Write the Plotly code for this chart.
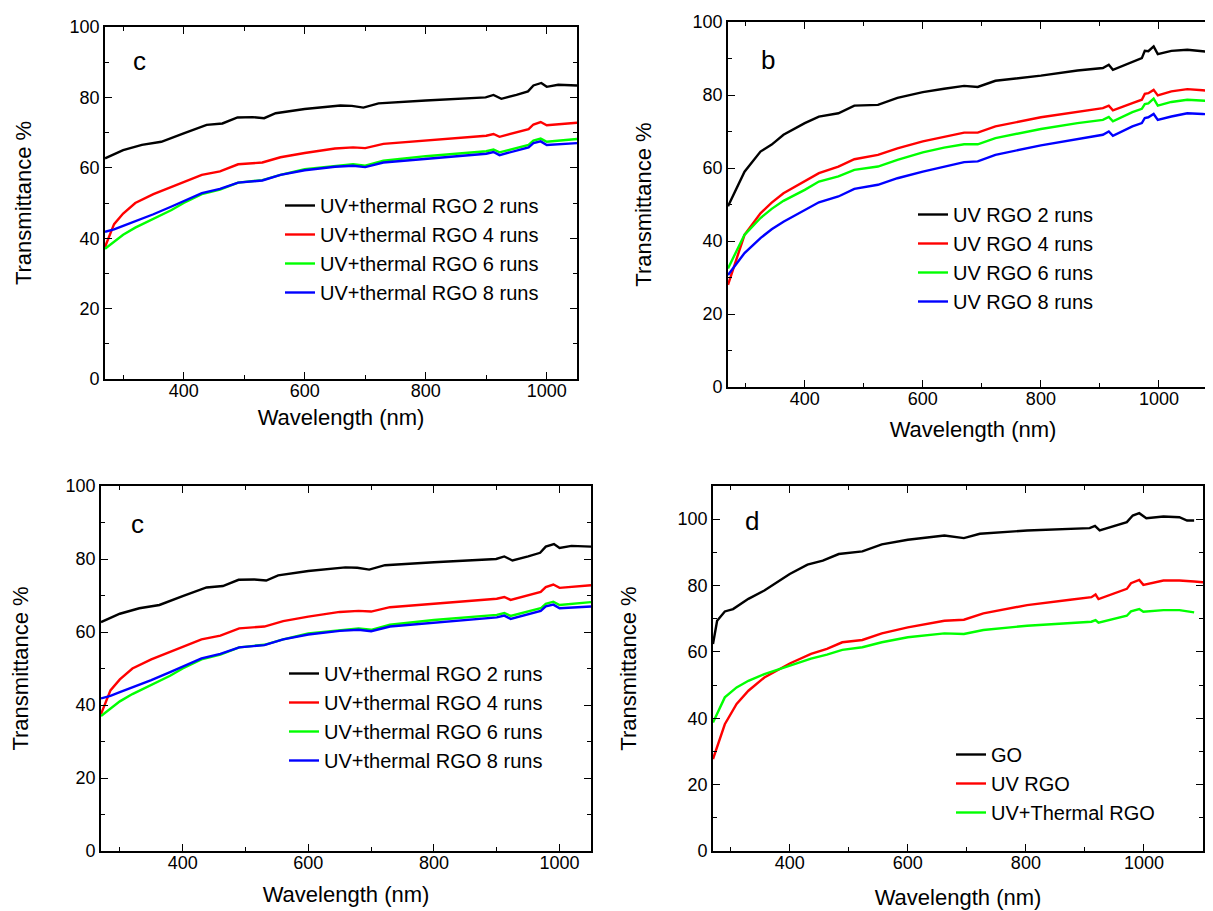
import plotly.graph_objects as go

W, H = 1213, 911
FONT = "Arial, Liberation Sans, sans-serif"

# ---------------- data: panel c (UV+thermal RGO) ----------------
wl_c_black = [270, 300, 331, 363, 400, 438, 464, 489, 514, 533, 552, 600, 659, 678, 697, 722, 800, 899, 912, 925, 950, 969, 978, 991, 1000, 1019, 1050]
t_c_2runs = [62.7, 65.0, 66.5, 67.4, 69.8, 72.2, 72.6, 74.3, 74.4, 74.1, 75.5, 76.7, 77.7, 77.6, 77.1, 78.3, 79.1, 80.0, 80.7, 79.6, 80.7, 81.7, 83.4, 84.1, 83.0, 83.6, 83.4]

wl_c = [270, 285, 300, 320, 350, 380, 400, 430, 460, 490, 530, 560, 600, 650, 680, 700, 730, 800, 850, 900, 912, 922, 970, 978, 990, 1000, 1050]
t_c_4runs = [37.5, 44.0, 47.0, 50.0, 52.5, 54.5, 56.0, 58.0, 59.0, 61.0, 61.5, 63.0, 64.2, 65.5, 65.8, 65.6, 66.8, 67.8, 68.4, 69.1, 69.6, 68.8, 71.0, 72.3, 73.0, 72.1, 72.8]
t_c_6runs = [37.0, 39.0, 41.0, 43.0, 45.5, 48.0, 50.0, 52.5, 53.8, 55.8, 56.5, 58.0, 59.6, 60.6, 61.0, 60.6, 62.0, 63.3, 64.0, 64.7, 65.2, 64.4, 66.5, 67.7, 68.3, 67.4, 68.2]
t_c_8runs = [41.8, 42.5, 43.5, 44.8, 46.8, 49.0, 50.5, 52.8, 54.0, 55.8, 56.4, 58.0, 59.3, 60.3, 60.6, 60.2, 61.5, 62.6, 63.3, 64.0, 64.5, 63.6, 65.8, 67.0, 67.5, 66.5, 67.0]

# ---------------- data: panel b (UV RGO) ----------------
wl_b = [270, 298, 325, 344, 364, 400, 424, 457, 484, 524, 557, 600, 636, 670, 693, 723, 800, 862, 905, 915, 922, 955, 971, 976, 982, 991, 998, 1021, 1048, 1074, 1100]
t_b_2runs = [49.5, 59.0, 64.5, 66.4, 69.1, 72.3, 74.1, 75.0, 77.1, 77.3, 79.2, 80.8, 81.7, 82.5, 82.2, 83.9, 85.3, 86.7, 87.4, 88.3, 86.9, 89.2, 90.1, 92.1, 92.0, 93.3, 91.2, 92.1, 92.4, 92.0, 91.5]
t_b_4runs = [28.0, 41.7, 47.6, 50.5, 53.1, 56.3, 58.6, 60.4, 62.4, 63.6, 65.4, 67.3, 68.6, 69.7, 69.7, 71.4, 73.9, 75.5, 76.4, 77.1, 75.8, 77.8, 78.7, 80.3, 80.5, 81.4, 79.9, 81.0, 81.6, 81.3, 81.0]
t_b_6runs = [32.5, 41.7, 46.3, 48.8, 51.0, 54.0, 56.3, 57.7, 59.5, 60.4, 62.2, 64.3, 65.6, 66.5, 66.5, 68.2, 70.7, 72.3, 73.2, 74.0, 72.8, 75.3, 76.2, 77.5, 77.7, 79.0, 77.1, 78.1, 78.7, 78.5, 78.2]
t_b_8runs = [30.7, 36.7, 40.8, 43.2, 45.3, 48.5, 50.6, 52.2, 54.3, 55.4, 57.2, 59.0, 60.4, 61.6, 61.8, 63.6, 66.2, 67.9, 69.1, 70.0, 68.8, 71.4, 72.3, 73.7, 73.9, 74.8, 73.2, 74.1, 75.0, 74.8, 74.6]

# ---------------- data: panel d (comparison) ----------------
wl_d_go = [270, 277, 290, 304, 330, 357, 400, 430, 456, 483, 523, 556, 600, 642, 662, 695, 722, 802, 908, 917, 925, 971, 981, 992, 1004, 1033, 1060, 1073, 1085]
t_d_go = [62.4, 69.4, 72.2, 72.9, 76.0, 78.5, 83.5, 86.3, 87.5, 89.5, 90.3, 92.4, 93.8, 94.6, 95.1, 94.3, 95.6, 96.6, 97.3, 98.0, 96.6, 99.1, 101.1, 101.8, 100.3, 100.8, 100.6, 99.6, 99.6]
wl_d = [270, 290, 310, 330, 357, 400, 436, 463, 489, 523, 556, 600, 662, 695, 728, 802, 875, 911, 918, 923, 971, 978, 992, 999, 1033, 1060, 1085, 1100]
t_d_uv = [27.7, 38.2, 44.3, 48.3, 52.3, 56.5, 59.4, 60.9, 62.9, 63.6, 65.6, 67.4, 69.4, 69.7, 71.6, 74.1, 75.7, 76.5, 77.3, 75.9, 79.0, 80.7, 81.7, 80.2, 81.5, 81.5, 81.2, 81.0]
wl_d_th = [270, 290, 310, 330, 357, 400, 436, 463, 489, 523, 556, 600, 662, 695, 728, 802, 875, 911, 918, 923, 971, 978, 992, 999, 1033, 1060, 1085]
t_d_thermal = [38.7, 46.3, 49.3, 51.3, 53.3, 55.8, 58.0, 59.2, 60.6, 61.4, 62.9, 64.4, 65.6, 65.4, 66.6, 67.9, 68.7, 69.1, 69.6, 68.8, 70.9, 72.2, 72.9, 72.1, 72.6, 72.6, 71.9]

names_c = ["UV+thermal RGO 2 runs", "UV+thermal RGO 4 runs", "UV+thermal RGO 6 runs", "UV+thermal RGO 8 runs"]
names_b = ["UV RGO 2 runs", "UV RGO 4 runs", "UV RGO 6 runs", "UV RGO 8 runs"]
names_d = ["GO", "UV RGO", "UV+Thermal RGO"]
colors = ["#000000", "#ff0000", "#00ff00", "#0000ff"]


def px2x(p):
    return p / W


def px2y(p):
    return 1 - p / H


fig = go.Figure()

# panel boxes in pixels: (left, right, top, bottom)
panels = {
    "": (97, 569, 19, 371),
    "2": (720, 1210, 14, 379),
    "3": (93, 583, 478, 843),
    "4": (705, 1195, 478, 843),
}
xranges = {"": [270, 1050], "2": [270, 1100], "3": [270, 1050], "4": [270, 1100]}
yranges = {"": [0, 100], "2": [0, 100], "3": [0, 100], "4": [0, 110]}
xstand = {"": 9, "2": 13, "3": 14, "4": 17}
ystand = {"": 32, "2": 35, "3": 38, "4": 35}


def add_series(xs_list, ys_list, names, sfx, legend):
    for i, (xs, ys, nm) in enumerate(zip(xs_list, ys_list, names)):
        fig.add_trace(go.Scatter(
            x=xs, y=ys, name=nm, mode="lines",
            line=dict(color=colors[i], width=2.4),
            xaxis="x" + sfx, yaxis="y" + sfx, legend=legend,
        ))


add_series([wl_c_black, wl_c, wl_c, wl_c], [t_c_2runs, t_c_4runs, t_c_6runs, t_c_8runs], names_c, "", "legend")
add_series([wl_b] * 4, [t_b_2runs, t_b_4runs, t_b_6runs, t_b_8runs], names_b, "2", "legend2")
add_series([wl_c_black, wl_c, wl_c, wl_c], [t_c_2runs, t_c_4runs, t_c_6runs, t_c_8runs], names_c, "3", "legend3")
add_series([wl_d_go, wl_d, wl_d_th], [t_d_go, t_d_uv, t_d_thermal], names_d, "4", "legend4")

layout = dict(
    width=W, height=H,
    margin=dict(l=0, r=0, t=0, b=0),
    paper_bgcolor="white", plot_bgcolor="white",
    font=dict(family=FONT, color="black", size=18),
    showlegend=True,
)

for sfx, (l, r, t, b) in panels.items():
    xa = dict(
        domain=[px2x(l), px2x(r)], range=xranges[sfx], anchor="y" + sfx,
        tick0=0, dtick=200, ticks="inside", ticklen=7, tickwidth=1.3, tickcolor="black",
        showline=True, linecolor="black", linewidth=1.6, mirror="ticks",
        showgrid=False, zeroline=False,
        tickfont=dict(size=18, family=FONT),
        ticklabelstandoff=-5,
        minor=dict(dtick=100, tick0=0, ticks="inside", ticklen=4, tickwidth=1.3, tickcolor="black", showgrid=False),
        title=dict(text="Wavelength (nm)", font=dict(size=22, family=FONT), standoff=xstand[sfx]),
        automargin=False,
    )
    ya = dict(
        domain=[px2y(b), px2y(t)], range=yranges[sfx], anchor="x" + sfx,
        tick0=0, dtick=20, ticks="inside", ticklen=7, tickwidth=1.3, tickcolor="black",
        showline=True, linecolor="black", linewidth=1.6, mirror="ticks",
        showgrid=False, zeroline=False,
        tickfont=dict(size=18, family=FONT),
        minor=dict(dtick=10, tick0=0, ticks="inside", ticklen=4, tickwidth=1.3, tickcolor="black", showgrid=False),
        title=dict(text="Transmittance %", font=dict(size=22, family=FONT), standoff=ystand[sfx]),
        automargin=False,
    )
    layout["xaxis" + sfx] = xa
    layout["yaxis" + sfx] = ya

# legends (positions in pixels: left edge, top edge)
leg_pos = {"legend": (272, 178), "legend2": (905, 187), "legend3": (276, 646), "legend4": (943, 727)}
for key, (lx, ty) in leg_pos.items():
    layout[key] = dict(
        x=px2x(lx), y=px2y(ty), xanchor="left", yanchor="top",
        bgcolor="rgba(0,0,0,0)", borderwidth=0,
        font=dict(size=20, family=FONT, color="black"),
        tracegroupgap=0, itemwidth=30,
    )

fig.update_layout(**layout)

# panel letters
letters = [("c", 131, 53), ("b", 760, 52), ("c", 129, 516), ("d", 744, 513)]
for txt, px, py in letters:
    fig.add_annotation(text=txt, x=px2x(px), y=px2y(py), xref="paper", yref="paper",
                       showarrow=False, xanchor="center", yanchor="middle",
                       font=dict(size=26, family=FONT, color="black"))

fig.write_html("out.html")
